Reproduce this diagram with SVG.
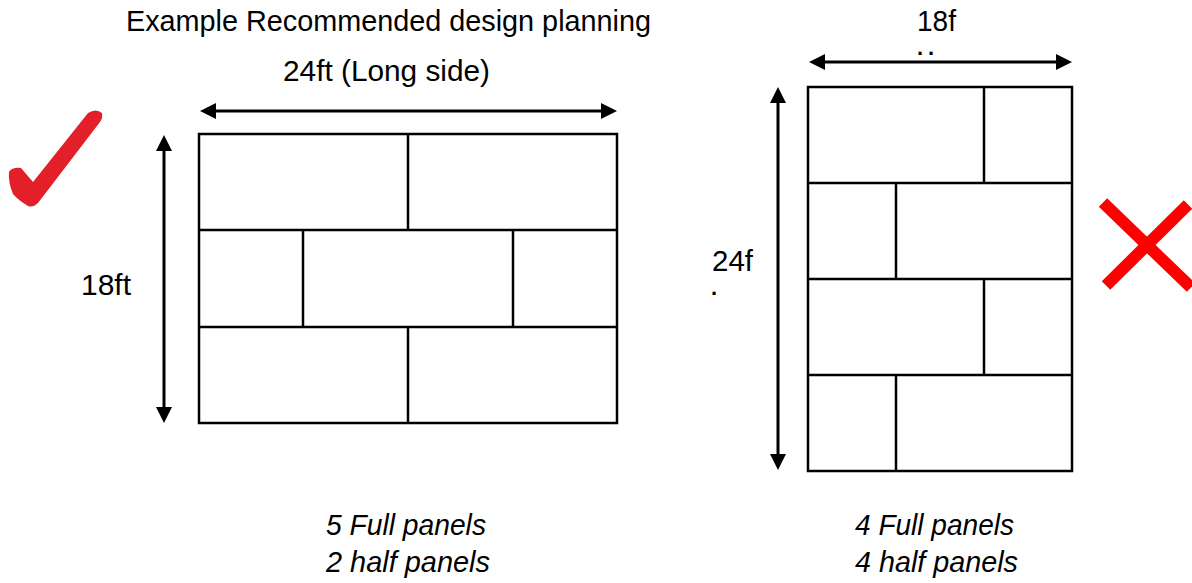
<svg xmlns="http://www.w3.org/2000/svg" width="1192" height="583" viewBox="0 0 1192 583">
<style>
  .t { font-family: "Liberation Sans", "Open Sans", Arial, sans-serif; font-size: 29px; fill: #000; }
  .d { font-family: "Liberation Sans", "Open Sans", Arial, sans-serif; font-size: 22px; fill: #000; font-weight: bold; }
  .i { font-style: italic; }
  .grid { fill: none; stroke: #000; stroke-width: 2.5; }
  .div { stroke: #000; stroke-width: 2.5; }
  .arr { stroke: #000; stroke-width: 3; marker-start: url(#ah); marker-end: url(#ah); }
</style>
<defs>
  <marker id="ah" markerUnits="userSpaceOnUse" viewBox="0 0 16 16" refX="6" refY="8" markerWidth="16" markerHeight="16" orient="auto-start-reverse">
    <path d="M0,0 L16,8 L0,16 Z" fill="#000"/>
  </marker>
</defs>
<rect width="1192" height="583" fill="#fff"/>

<g id="labels">
  <text class="t" x="126" y="31" textLength="525" lengthAdjust="spacingAndGlyphs">Example Recommended design planning</text>
  <text class="t" x="283" y="81" textLength="207" lengthAdjust="spacingAndGlyphs">24ft (Long side)</text>
  <text class="t" x="81" y="295" textLength="50" lengthAdjust="spacingAndGlyphs">18ft</text>
  <text class="t" x="917" y="31" textLength="39" lengthAdjust="spacingAndGlyphs">18f</text>
  <text class="d" x="917" y="55" letter-spacing="5">..</text>
  <text class="t" x="712" y="271" textLength="41" lengthAdjust="spacingAndGlyphs">24f</text>
  <text class="d" x="711" y="295">.</text>
  <text class="t i" x="326" y="535" textLength="160" lengthAdjust="spacingAndGlyphs">5 Full panels</text>
  <text class="t i" x="326" y="572" textLength="164" lengthAdjust="spacingAndGlyphs">2 half panels</text>
  <text class="t i" x="855" y="535" textLength="159" lengthAdjust="spacingAndGlyphs">4 Full panels</text>
  <text class="t i" x="855" y="572" textLength="163" lengthAdjust="spacingAndGlyphs">4 half panels</text>
</g>

<g id="check-mark">
  <path d="M9,172 Q12,167 21,168 L33,182 L88,113 Q96,108 102,113 Q103,118 100,122 L38,203 Q33,208 28,206 Q18,200 13,194 Q8,182 9,172 Z" fill="#E3202A"/>
</g>

<g id="cross-mark">
  <line x1="1103" y1="202.5" x2="1191" y2="287.5" stroke="#FF0000" stroke-width="12"/>
  <line x1="1106" y1="285.5" x2="1188" y2="204.5" stroke="#FF0000" stroke-width="12"/>
</g>

<g id="plan-recommended">
  <rect class="grid" x="199" y="134" width="418" height="289"/>
  <line class="div" x1="199" y1="230" x2="617" y2="230"/>
  <line class="div" x1="199" y1="327" x2="617" y2="327"/>
  <line class="div" x1="408" y1="134" x2="408" y2="230"/>
  <line class="div" x1="303" y1="230" x2="303" y2="327"/>
  <line class="div" x1="513" y1="230" x2="513" y2="327"/>
  <line class="div" x1="408" y1="327" x2="408" y2="423"/>
</g>

<g id="plan-not-recommended">
  <rect class="grid" x="808" y="87" width="264" height="384"/>
  <line class="div" x1="808" y1="183" x2="1072" y2="183"/>
  <line class="div" x1="808" y1="279" x2="1072" y2="279"/>
  <line class="div" x1="808" y1="375" x2="1072" y2="375"/>
  <line class="div" x1="984" y1="87" x2="984" y2="183"/>
  <line class="div" x1="896" y1="183" x2="896" y2="279"/>
  <line class="div" x1="984" y1="279" x2="984" y2="375"/>
  <line class="div" x1="896" y1="375" x2="896" y2="471"/>
</g>

<g id="connectors">
  <line class="arr" x1="210" y1="111" x2="607" y2="111"/>
  <line class="arr" x1="164" y1="145" x2="164" y2="413"/>
  <line class="arr" x1="819" y1="62" x2="1062" y2="62"/>
  <line class="arr" x1="778" y1="97" x2="778" y2="460"/>
</g>
</svg>
